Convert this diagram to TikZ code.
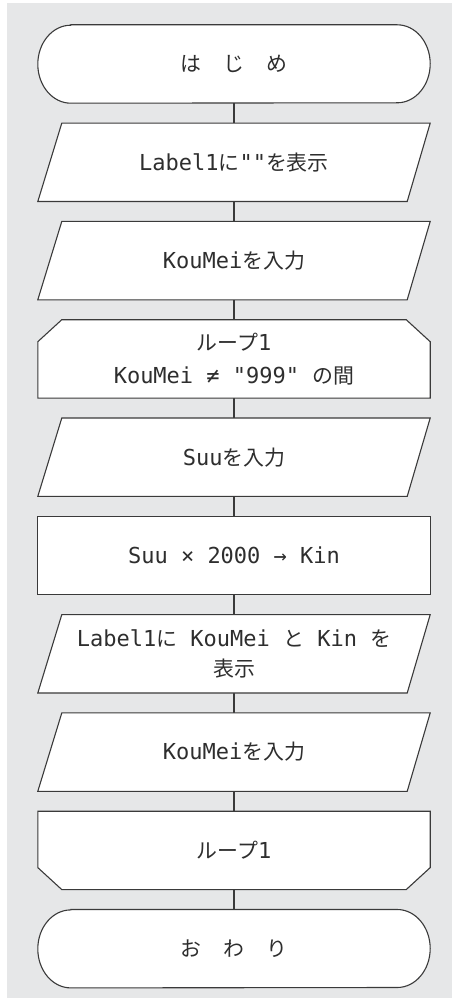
\documentclass[tikz,border=0pt]{standalone}
\usepackage{fontspec}
\newfontfamily\lat{DejaVu Sans Mono}[Ligatures=TeXOff]
\newfontfamily\jp{Noto Sans CJK JP}[Scale=0.95]
\usetikzlibrary{calc}
\pgfdeclarelayer{bgl}
\pgfdeclarelayer{shp}
\pgfsetlayers{bgl,shp,main}
\definecolor{bggray}{HTML}{E6E7E8}
\definecolor{lc}{HTML}{3A3A3A}
\definecolor{tc}{HTML}{2E2E2E}
\tikzset{
  fcbox/.style={minimum width=392pt, minimum height=78pt, inner sep=0pt, align=center,
    text=tc, font=\fontsize{22}{31}\selectfont\lat},
  outl/.style={draw=lc, fill=white, line width=1.1pt, line join=miter},
  conn/.style={draw=lc, line width=1.1pt}
}
\newcommand\FCterm[1]{%
  \begin{pgfonlayer}{shp}
  \path[outl] ([xshift=33pt]#1.north west) -- ([xshift=-33pt]#1.north east)
    arc[start angle=90, end angle=-90, x radius=33pt, y radius=39pt]
    -- ([xshift=33pt]#1.south west)
    arc[start angle=270, end angle=90, x radius=33pt, y radius=39pt] -- cycle;
  \end{pgfonlayer}}
\newcommand\FCio[1]{%
  \begin{pgfonlayer}{shp}
  \path[outl] ([xshift=24pt]#1.north west) -- (#1.north east)
    -- ([xshift=-23pt]#1.south east) -- (#1.south west) -- cycle;
  \end{pgfonlayer}}
\newcommand\FCproc[1]{%
  \begin{pgfonlayer}{shp}
  \path[outl] (#1.north west) rectangle (#1.south east);
  \end{pgfonlayer}}
\newcommand\FCloopA[1]{%
  \begin{pgfonlayer}{shp}
  \path[outl] ([xshift=24pt]#1.north west) -- ([xshift=-24pt]#1.north east)
    -- ([yshift=-22pt]#1.north east) -- (#1.south east) -- (#1.south west)
    -- ([yshift=-22pt]#1.north west) -- cycle;
  \end{pgfonlayer}}
\newcommand\FCloopB[1]{%
  \begin{pgfonlayer}{shp}
  \path[outl] (#1.north west) -- (#1.north east)
    -- ([yshift=22pt]#1.south east) -- ([xshift=-24pt]#1.south east)
    -- ([xshift=24pt]#1.south west) -- ([yshift=22pt]#1.south west) -- cycle;
  \end{pgfonlayer}}
\begin{document}
\begin{tikzpicture}[x=1pt,y=-1pt]
\useasboundingbox (0,0) rectangle (452,1003);
\begin{pgfonlayer}{bgl}
\fill[bggray] (7,3) rectangle (452,998);
\end{pgfonlayer}

\node[fcbox] (n0) at (234,64)    {{\jp は\hspace{22pt}じ\hspace{22pt}め}};
\node[fcbox] (n1) at (234,162.3) {Label1{\jp に}""{\jp を表示}};
\node[fcbox] (n2) at (234,260.6) {KouMei{\jp を入力}};
\node[fcbox] (n3) at (234,358.9) {{\jp ループ}1\\[2pt]KouMei ≠ "999" {\jp の間}};
\node[fcbox] (n4) at (234,457.2) {Suu{\jp を入力}};
\node[fcbox] (n5) at (234,555.5) {Suu × 2000 → Kin};
\node[fcbox] (n6) at (234,653.8) {Label1{\jp に} KouMei {\jp と} Kin {\jp を}\\[-1pt]{\jp 表示}};
\node[fcbox] (n7) at (234,752.1) {KouMei{\jp を入力}};
\node[fcbox] (n8) at (234,850.4) {{\jp ループ}1};
\node[fcbox] (n9) at (234,948.7) {{\jp お\hspace{22pt}わ\hspace{22pt}り}};

\FCterm{n0}
\FCio{n1}
\FCio{n2}
\FCloopA{n3}
\FCio{n4}
\FCproc{n5}
\FCio{n6}
\FCio{n7}
\FCloopB{n8}
\FCterm{n9}

\begin{pgfonlayer}{bgl}
\draw[conn] (n0.south) -- (n1.north);
\draw[conn] (n1.south) -- (n2.north);
\draw[conn] (n2.south) -- (n3.north);
\draw[conn] (n3.south) -- (n4.north);
\draw[conn] (n4.south) -- (n5.north);
\draw[conn] (n5.south) -- (n6.north);
\draw[conn] (n6.south) -- (n7.north);
\draw[conn] (n7.south) -- (n8.north);
\draw[conn] (n8.south) -- (n9.north);
\end{pgfonlayer}
\end{tikzpicture}
\end{document}
